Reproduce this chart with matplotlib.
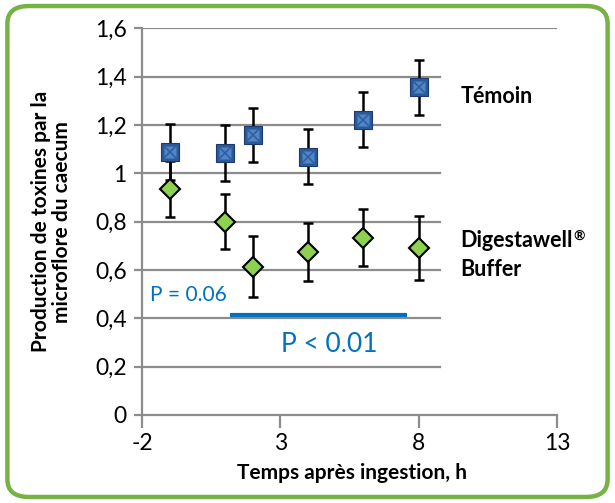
import matplotlib
matplotlib.use('Agg')
import matplotlib.pyplot as plt
from matplotlib.patches import FancyBboxPatch
from matplotlib.transforms import offset_copy

# Données
temps = [-1, 1, 2, 4, 6, 8]
temoin = [1.087, 1.083, 1.159, 1.069, 1.221, 1.356]
temoin_err = [0.116, 0.116, 0.112, 0.113, 0.113, 0.114]
digestawell = [0.935, 0.800, 0.614, 0.673, 0.734, 0.690]
digestawell_err = [0.116, 0.115, 0.125, 0.120, 0.118, 0.132]

# Barre de significativité (P < 0.01)
barre_x = [1.18, 7.59]
barre_y = 0.414

x_ticks = [-2, 3, 8, 13]
y_ticks = [0, 0.2, 0.4, 0.6, 0.8, 1.0, 1.2, 1.4, 1.6]

plt.rcParams['font.family'] = ['Lato', 'DejaVu Sans']
plt.rcParams['axes.unicode_minus'] = False
gris = '#8c8c8c'
bleu_txt = '#0070c0'

fig = plt.figure(figsize=(6.15, 5.03), dpi=100)
ax = fig.add_axes([0.231, 0.175, 0.675, 0.769])

# cadre vert arrondi
cadre = FancyBboxPatch((0.012, 0.012), 0.976, 0.976, boxstyle='round,pad=0,rounding_size=0.035',
                       transform=fig.transFigure, facecolor='white', edgecolor='#77b244',
                       linewidth=3.2, zorder=-10)
fig.patches.append(cadre)
ax.set_facecolor('none')

ax.set_xlim(x_ticks[0], x_ticks[-1])
ax.set_ylim(y_ticks[0], y_ticks[-1])

# quadrillage (coupé à droite par la zone des étiquettes, sauf la ligne du haut)
for y in y_ticks[1:-1]:
    ax.plot([x_ticks[0], 8.75], [y, y], color=gris, lw=1.6, zorder=0)
ax.plot([x_ticks[0], x_ticks[-1]], [y_ticks[-1]] * 2, color=gris, lw=1.6, zorder=0)

# Témoin : carrés bleus
ax.errorbar(temps, temoin, yerr=temoin_err, fmt='none', ecolor='black', elinewidth=1.8,
            capsize=3.8, capthick=1.8, zorder=3)
ax.plot(temps, temoin, 's', ms=13.5, color='#2c5a98', mec='#1c3a6b', mew=0.8, ls='none', zorder=4)
ax.plot(temps, temoin, 's', ms=9, color='#4f86c9', mec='none', ls='none', zorder=5)
ax.plot(temps, temoin, 'x', ms=10, color='#2f5c9c', mew=1.1, ls='none', zorder=6)

# Digestawell : losanges verts
ax.errorbar(temps, digestawell, yerr=digestawell_err, fmt='none', ecolor='black', elinewidth=1.8,
            capsize=3.8, capthick=1.8, zorder=3)
ax.plot(temps, digestawell, 'D', ms=10, color='#8dd14f', mec='black', mew=1.5, ls='none', zorder=5)

# barre bleue + annotations P
ax.plot(barre_x, [barre_y, barre_y], color=bleu_txt, lw=3, solid_capstyle='butt', zorder=2)
ax.text(-1.7, 0.497, 'P = 0.06', color=bleu_txt, fontsize=15, ha='left', va='center')
ax.text(4.78, 0.29, 'P < 0.01', color=bleu_txt, fontsize=19, ha='center', va='center')

ax.text(9.5, 1.317, 'Témoin', fontsize=15.5, fontweight='bold', ha='left', va='center')
t_dig = ax.text(9.5, 0.721, 'Digestawell', fontsize=15.5, fontweight='bold', ha='left', va='center')
ax.text(9.5, 0.603, 'Buffer', fontsize=15.5, fontweight='bold', ha='left', va='center')

# ® en exposant, placé juste après "Digestawell"
fig.canvas.draw()
bb = t_dig.get_window_extent()
x_fin = ax.transData.inverted().transform((bb.x1, 0))[0]
ax.text(x_fin, 0.721, '®', fontsize=10, fontweight='bold', ha='left', va='bottom',
        transform=offset_copy(ax.transData, fig=fig, x=0.3, y=-1, units='points'))

# axes
for s in ['top', 'right']:
    ax.spines[s].set_visible(False)
for s in ['left', 'bottom']:
    ax.spines[s].set_color(gris)
    ax.spines[s].set_linewidth(1.6)
ax.set_xticks(x_ticks)
ax.set_yticks(y_ticks)
ax.set_yticklabels([f'{v:g}'.replace('.', ',') for v in y_ticks])
ax.tick_params(axis='both', colors=gris, width=1.6, labelcolor='black', labelsize=16.5)
ax.tick_params(axis='x', length=9, pad=4)
ax.tick_params(axis='y', length=6, pad=5)

ax.set_xlabel('Temps après ingestion, h', fontsize=15, fontweight='bold')
ax.xaxis.set_label_coords(0.506, -0.125)
ax.set_ylabel('Production de toxines par la\nmicroflore du caecum', fontsize=15,
              fontweight='bold', linespacing=1.1)
ax.yaxis.set_label_coords(-0.168, 0.5)

fig.savefig('out.png', dpi=100)
